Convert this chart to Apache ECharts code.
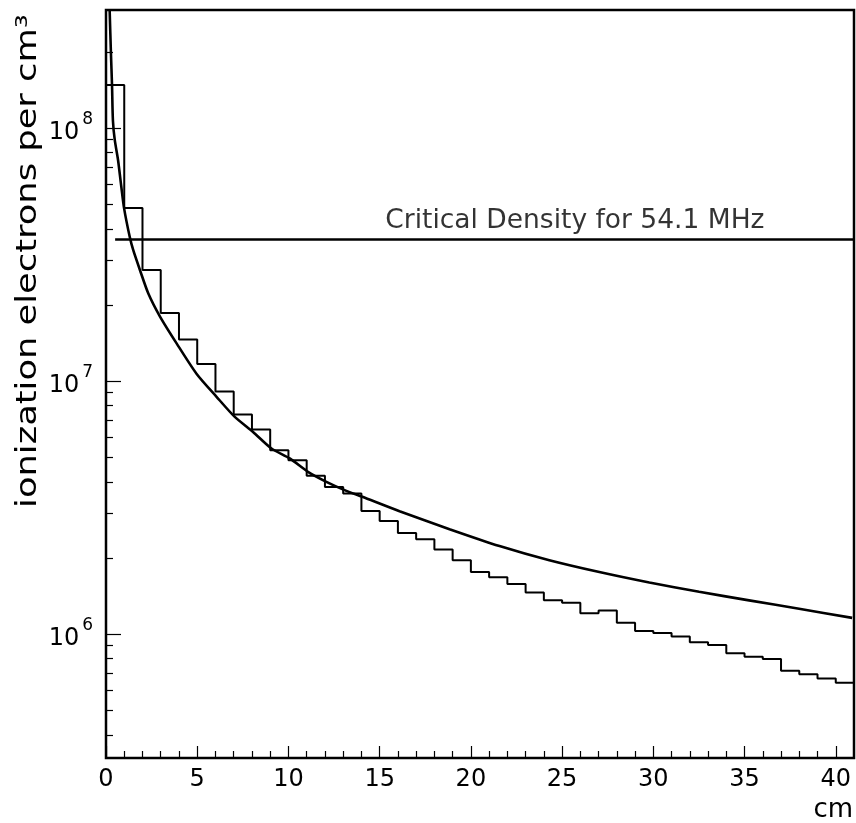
<!DOCTYPE html>
<html>
<head>
<meta charset="utf-8">
<script src="https://cdn.jsdelivr.net/npm/echarts@6/dist/echarts.min.js"></script>
<style>
html,body{margin:0;padding:0;background:#fff;}
#c{width:856px;height:823px;}
</style>
</head>
<body>
<div id="c"></div>
<script>
// ---- data ----
var binEdges = [0,1,2,3,4,5,6,7,8,9,10,11,12,13,14,15,16,17,18,19,20,21,22,23,24,25,26,27,28,29,30,31,32,33,34,35,36,37,38,39,40,41];
var histValues = [1.48e8,4.83e7,2.75e7,1.86e7,1.46e7,1.17e7,9.1e6,7.38e6,6.44e6,5.33e6,
  4.87e6,4.23e6,3.82e6,3.6e6,3.07e6,2.80e6,2.51e6,2.37e6,2.16e6,1.96e6,
  1.76e6,1.68e6,1.58e6,1.46e6,1.36e6,1.33e6,1.21e6,1.24e6,1.11e6,1.03e6,
  1.01e6,9.8e5,9.3e5,9.06e5,8.4e5,8.14e5,7.97e5,7.16e5,6.95e5,6.68e5,6.42e5];
var curveX = [0.2,0.27,0.33,0.38,0.48,0.66,0.84,0.99,1.30,1.49,1.86,2.32,2.96,3.87,4.96,6.06,7.06,8.06,9.07,10.07,11.07,12.08,13.08,14.05,16.09,18.83,21.57,24.30,27.04,29.78,32.51,35.25,37.99,40.9];
var curveY = [2.93e8,1.98e8,1.48e8,1.07e8,8.98e7,7.48e7,5.86e7,4.83e7,3.72e7,3.30e7,2.75e7,2.22e7,1.80e7,1.41e7,1.07e7,8.67e6,7.22e6,6.3e6,5.42e6,4.95e6,4.38e6,4.0e6,3.71e6,3.49e6,3.06e6,2.60e6,2.23e6,1.96e6,1.76e6,1.60e6,1.47e6,1.36e6,1.26e6,1.16e6];
var criticalDensity = 3.63e7;
var criticalRange = [0.5, 41];
var criticalLabel = 'Critical Density for 54.1 MHz';
var criticalLabelX = 25.7;
var xMajorTicks = [0,5,10,15,20,25,30,35,40];
var xMinorTicks = [1,2,3,4,6,7,8,9,11,12,13,14,16,17,18,19,21,22,23,24,26,27,28,29,31,32,33,34,36,37,38,39];
var yMajorTicks = [1e6,1e7,1e8];
var yMinorTicks = [4e5,5e5,6e5,7e5,8e5,9e5,2e6,3e6,4e6,5e6,6e6,7e6,8e6,9e6,2e7,3e7,4e7,5e7,6e7,7e7,8e7,9e7,2e8];
var xRange = [0, 41];
var yRange = [3.24e5, 2.93e8];
var xTitle = 'cm';
var yTitle = 'ionization electrons per cm\u00B3';

// ---- build ----
var histData = binEdges.map(function(e, i){
  return [e, histValues[Math.min(i, histValues.length - 1)]];
});
var curveData = curveX.map(function(x, i){ return [x, curveY[i]]; });
var FONT = 'DejaVu Sans';

var chart = echarts.init(document.getElementById('c'), null, {renderer:'canvas'});
chart.setOption({
  animation: false,
  backgroundColor: '#fff',
  grid: {left:106, top:10, width:748, height:748, show:true, borderColor:'#000', borderWidth:2.5, backgroundColor:'transparent'},
  xAxis: [{
    type:'value', min:xRange[0], max:xRange[1], position:'bottom',
    axisLine:{show:false}, splitLine:{show:false},
    axisTick:{show:true, inside:true, length:12, customValues:xMajorTicks, lineStyle:{color:'#000', width:1.2}},
    axisLabel:{show:true, customValues:xMajorTicks, color:'#000', fontFamily:FONT, fontSize:24, margin:10}
  },{
    type:'value', min:xRange[0], max:xRange[1], position:'bottom',
    axisLine:{show:false}, splitLine:{show:false}, axisLabel:{show:false},
    axisTick:{show:true, inside:true, length:7, customValues:xMinorTicks, lineStyle:{color:'#000', width:1.2}}
  }],
  yAxis: [{
    type:'log', logBase:10, min:yRange[0], max:yRange[1], position:'left',
    axisLine:{show:false}, splitLine:{show:false},
    axisTick:{show:true, inside:true, length:15, customValues:yMajorTicks, lineStyle:{color:'#000', width:1.2}},
    axisLabel:{show:true, customValues:yMajorTicks, margin:13,
      formatter:function(v){ return '{b|10}{s|' + Math.round(Math.log10(v)) + '}'; },
      rich:{ b:{fontFamily:FONT, fontSize:24, color:'#000', lineHeight:34, verticalAlign:'bottom'},
             s:{fontFamily:FONT, fontSize:17, color:'#000', verticalAlign:'top', padding:[0,0,0,3]} }
    }
  },{
    type:'log', logBase:10, min:yRange[0], max:yRange[1], position:'left',
    axisLine:{show:false}, splitLine:{show:false}, axisLabel:{show:false},
    axisTick:{show:true, inside:true, length:7, customValues:yMinorTicks, lineStyle:{color:'#000', width:1.2}}
  }],
  series: [{
    type:'line', name:'histogram', xAxisIndex:0, yAxisIndex:0, step:'end', data:histData,
    showSymbol:false, symbol:'none', lineStyle:{color:'#000', width:2}, z:3
  },{
    type:'line', name:'curve', xAxisIndex:0, yAxisIndex:0, data:curveData, smooth:0.25,
    showSymbol:false, symbol:'none', lineStyle:{color:'#000', width:2.6}, z:4
  },{
    type:'line', name:'critical', xAxisIndex:0, yAxisIndex:0,
    data:[[criticalRange[0], criticalDensity],[criticalRange[1], criticalDensity]],
    showSymbol:false, symbol:'none', lineStyle:{color:'#000', width:2.4}, z:4
  },{
    type:'scatter', xAxisIndex:0, yAxisIndex:0, data:[[criticalLabelX, criticalDensity]],
    symbolSize:0, silent:true,
    label:{show:true, position:'top', distance:5, formatter:criticalLabel, color:'#000', fontFamily:FONT, fontSize:26.5}
  }],
  graphic: [{
    type:'text', x:853, y:810,
    style:{text:xTitle, fill:'#000', font:'26px "DejaVu Sans"', textAlign:'right', textVerticalAlign:'middle'}
  },{
    type:'text', x:29, y:14, rotation:Math.PI/2, scaleX:1.26,
    style:{text:yTitle, fill:'#000', font:'28px "DejaVu Sans"', textAlign:'right', textVerticalAlign:'middle'}
  }]
});
</script>
</body>
</html>
